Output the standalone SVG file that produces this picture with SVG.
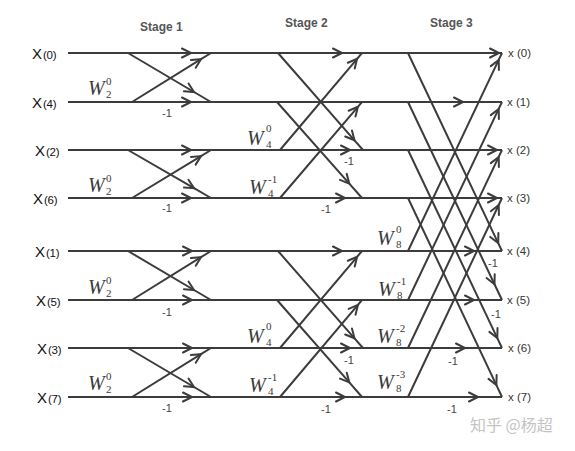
<svg xmlns="http://www.w3.org/2000/svg" width="575" height="451" viewBox="0 0 575 451">
<defs>
<marker id="arr" viewBox="-10 -6 12 12" refX="0" refY="0" markerWidth="12" markerHeight="12" markerUnits="userSpaceOnUse" orient="auto" overflow="visible">
<path d="M-9,-4.5 L0,0 L-9,4.5" fill="none" stroke="#3c3c3c" stroke-width="2" stroke-linecap="round" stroke-linejoin="miter"/>
</marker>
</defs>
<style>
.c path{fill:none;stroke:#3c3c3c;stroke-width:2;marker-mid:url(#arr)}
.stage{font-family:"Liberation Sans",Arial,sans-serif;font-weight:bold;font-size:12px;fill:#555}
.in{font-family:"Liberation Sans",Arial,sans-serif;fill:#111}
.in .big{font-size:15px}
.in .sm{font-size:11.5px}
.out{font-family:"Liberation Sans",Arial,sans-serif;font-size:11.5px;fill:#333}
.m1{font-family:"Liberation Sans",Arial,sans-serif;font-size:11px;fill:#444;text-anchor:middle}
.w{font-family:"Liberation Serif","Times New Roman",serif;fill:#3a3a3a}
.w .W{font-style:italic;font-size:20px}
.w .s{font-size:11px}
.wm{font-family:"Noto Sans CJK SC",sans-serif;font-size:16px;fill:#c4c4c4}
</style>
<rect width="575" height="451" fill="#fff"/>
<g id="stages">
<text class="stage" x="140" y="31">Stage 1</text>
<text class="stage" x="285" y="27">Stage 2</text>
<text class="stage" x="430" y="27">Stage 3</text>
</g>
<g id="connectors" class="c">
<path d="M68,53 L191,53 L342,53 L499,53 L502,53"/>
<path d="M68,102 L191,102 L463,102 L502,102"/>
<path d="M68,150 L191,150 L350,150 L497,150 L502,150"/>
<path d="M68,198 L191,198 L345,198 L497,198 L502,198"/>
<path d="M68,251 L192,251 L342,251 L474,251 L502,251"/>
<path d="M68,300 L192,300 L474,300 L502,300"/>
<path d="M68,348 L192,348 L350,348 L465,348 L502,348"/>
<path d="M68,397 L192,397 L345,397 L478,397 L502,397"/>
<path d="M128,53 L194,92 L211,102"/>
<path d="M132,102 L201,59.2 L211,53"/>
<path d="M128,150 L194,188.2 L211,198"/>
<path d="M132,198 L201,156.1 L211,150"/>
<path d="M128,251 L194,290 L211,300"/>
<path d="M132,300 L201,257.2 L211,251"/>
<path d="M128,348 L194,387 L211,397"/>
<path d="M132,397 L201,354.2 L211,348"/>
<path d="M278,53 L354.5,140.3 L363,150"/>
<path d="M280,150 L357.1,58.8 L362,53"/>
<path d="M277,102 L349.3,183.6 L362,198"/>
<path d="M280,198 L357.9,106.8 L362,102"/>
<path d="M278,251 L354.5,338.3 L363,348"/>
<path d="M280,348 L357.1,256.8 L362,251"/>
<path d="M277,300 L349.3,382.4 L362,397"/>
<path d="M280,397 L357.9,304.9 L362,300"/>
<path d="M408,53 L498.2,243.1 L502,251"/>
<path d="M408,102 L494.5,284.2 L502,300"/>
<path d="M408,150 L497.3,338.1 L502,348"/>
<path d="M408,198 L496.4,385.1 L502,397"/>
<path d="M408,251 L498.7,59.9 L502,53"/>
<path d="M408,300 L498.7,108.9 L502,102"/>
<path d="M408,348 L498.7,156.9 L502,150"/>
<path d="M408,397 L498.7,205 L502,198"/>
</g>
<g id="inputs" class="in">
<text x="32" y="59"><tspan class="big">X</tspan><tspan class="sm" dx="1" textLength="13.5">(0)</tspan></text>
<text x="32" y="108"><tspan class="big">X</tspan><tspan class="sm" dx="1" textLength="13.5">(4)</tspan></text>
<text x="35" y="156"><tspan class="big">X</tspan><tspan class="sm" dx="1" textLength="13.5">(2)</tspan></text>
<text x="33" y="204"><tspan class="big">X</tspan><tspan class="sm" dx="1" textLength="13.5">(6)</tspan></text>
<text x="35" y="257"><tspan class="big">X</tspan><tspan class="sm" dx="1" textLength="13.5">(1)</tspan></text>
<text x="36" y="306"><tspan class="big">X</tspan><tspan class="sm" dx="1" textLength="13.5">(5)</tspan></text>
<text x="37" y="354"><tspan class="big">X</tspan><tspan class="sm" dx="1" textLength="13.5">(3)</tspan></text>
<text x="37" y="403"><tspan class="big">X</tspan><tspan class="sm" dx="1" textLength="13.5">(7)</tspan></text>
</g>
<g id="outputs" class="out">
<text x="508" y="57">x (0)</text>
<text x="507" y="106">x (1)</text>
<text x="507" y="154">x (2)</text>
<text x="507" y="202">x (3)</text>
<text x="507" y="255">x (4)</text>
<text x="507" y="304">x (5)</text>
<text x="508" y="352">x (6)</text>
<text x="508" y="401">x (7)</text>
</g>
<g id="twiddles" class="w">
<text x="88" y="95"><tspan class="W">W</tspan><tspan class="s" x="106" y="85">0</tspan><tspan class="s" x="106" y="98">2</tspan></text>
<text x="88" y="192"><tspan class="W">W</tspan><tspan class="s" x="106" y="182">0</tspan><tspan class="s" x="106" y="195">2</tspan></text>
<text x="88" y="294"><tspan class="W">W</tspan><tspan class="s" x="106" y="284">0</tspan><tspan class="s" x="106" y="297">2</tspan></text>
<text x="88" y="390"><tspan class="W">W</tspan><tspan class="s" x="106" y="380">0</tspan><tspan class="s" x="106" y="393">2</tspan></text>
<text x="247" y="145"><tspan class="W">W</tspan><tspan class="s" x="266" y="132">0</tspan><tspan class="s" x="266" y="148">4</tspan></text>
<text x="249" y="194"><tspan class="W">W</tspan><tspan class="s" x="268" y="183">-1</tspan><tspan class="s" x="268" y="197">4</tspan></text>
<text x="247" y="343"><tspan class="W">W</tspan><tspan class="s" x="266" y="330">0</tspan><tspan class="s" x="266" y="346">4</tspan></text>
<text x="249" y="392"><tspan class="W">W</tspan><tspan class="s" x="268" y="381">-1</tspan><tspan class="s" x="268" y="395">4</tspan></text>
<text x="377" y="245"><tspan class="W">W</tspan><tspan class="s" x="396" y="233">0</tspan><tspan class="s" x="396" y="248">8</tspan></text>
<text x="378" y="296"><tspan class="W">W</tspan><tspan class="s" x="397" y="285">-1</tspan><tspan class="s" x="397" y="299">8</tspan></text>
<text x="377" y="343"><tspan class="W">W</tspan><tspan class="s" x="396" y="332">-2</tspan><tspan class="s" x="396" y="346">8</tspan></text>
<text x="377" y="389"><tspan class="W">W</tspan><tspan class="s" x="396" y="378">-3</tspan><tspan class="s" x="396" y="392">8</tspan></text>
</g>
<g id="minus" class="m1">
<text x="167" y="117">-1</text>
<text x="167" y="212">-1</text>
<text x="167" y="316">-1</text>
<text x="167" y="412">-1</text>
<text x="349" y="165">-1</text>
<text x="326" y="213">-1</text>
<text x="349" y="364">-1</text>
<text x="326" y="413">-1</text>
<text x="493" y="267">-1</text>
<text x="496" y="318">-1</text>
<text x="453" y="365">-1</text>
<text x="452" y="413">-1</text>
</g>
<g id="watermark">
<text class="wm" x="470" y="431">知乎 @杨超</text>
</g>
</svg>
